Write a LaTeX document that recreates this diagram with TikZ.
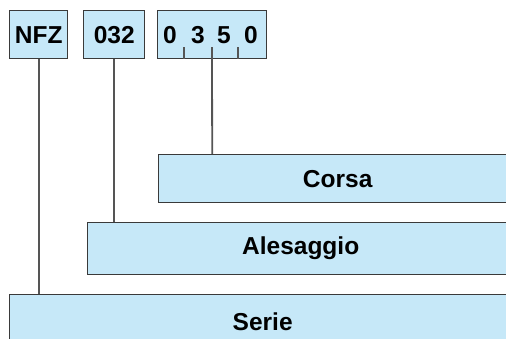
\documentclass[tikz,border=0pt]{standalone}
\usepackage{fontspec}
\setmainfont{Liberation Sans}
\definecolor{codeblue}{HTML}{C6E8F8}
\definecolor{framegray}{HTML}{3A3A3A}
\definecolor{leadgray}{HTML}{555555}
\tikzset{
  codebox/.style={draw=framegray, line width=1.4pt, fill=codeblue, inner sep=0pt, anchor=north west},
  digit/.style={inner sep=0pt, anchor=base},
  lead/.style={draw=leadgray, line width=1.8pt}
}
\begin{document}
\begin{tikzpicture}[x=1pt,y=-1pt]
				\fontsize{24.5}{29}\selectfont\bfseries
				\clip (0,0) rectangle (506,338);
				% code fields on top
				\node[codebox, minimum width=58pt, minimum height=48pt] (nfz) at (9,10) {NFZ};
				\node[codebox, minimum width=61pt, minimum height=48pt] (bore) at (83,10) {032};
				\node[codebox, minimum width=109pt, minimum height=48pt] (stroke) at (157,10) {};
				\node[digit] (d1) at (170,43) {0};
				\node[digit] (d2) at (198,43) {3};
				\node[digit] (d3) at (224,43) {5};
				\node[digit] (d4) at (251,43) {0};
				
				% description bars, running off to the right
				\node[codebox, minimum width=358pt, minimum height=48pt] (corsa) at (158,154) {Corsa};
				\node[codebox, minimum width=426pt, minimum height=52pt] (alesaggio) at (87,222) {Alesaggio};
				\node[codebox, minimum width=506pt, minimum height=54pt] (serie) at (9,294) {Serie};
				
				% ticks between the digits
				\draw[lead] (184,47) -- (stroke.south -| 184,0);
				\draw[lead] (238,47) -- (stroke.south -| 238,0);
				
				% leads down to the bars
				\draw[lead] (212,47) -- (corsa.north -| stroke.south);
				\draw[lead] (bore.south) -- (alesaggio.north -| bore.south);
				\draw[lead] (nfz.south) -- (serie.north -| nfz.south);
			\end{tikzpicture}
\end{document}
